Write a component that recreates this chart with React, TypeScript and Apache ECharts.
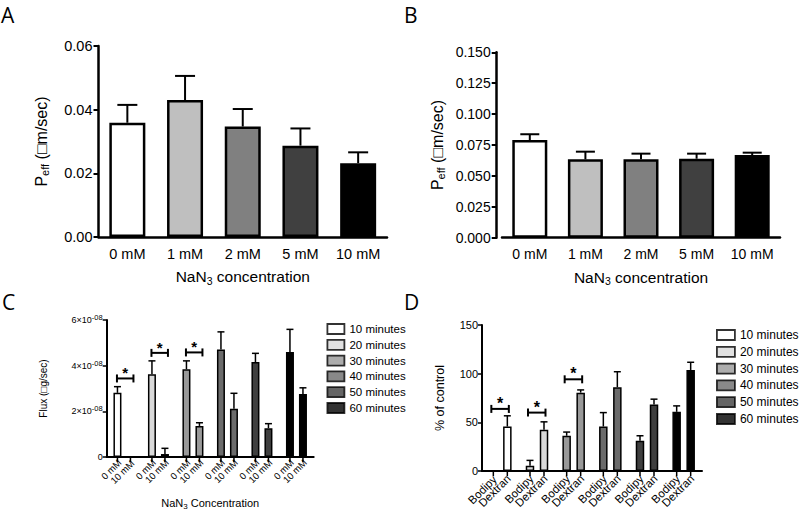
import React, { useEffect, useRef } from 'react';
import * as echarts from 'echarts';

// ---------- data ----------
const concCategories = ['0 mM', '1 mM', '2 mM', '5 mM', '10 mM'];
const peffA = [0.0359, 0.043, 0.0347, 0.0287, 0.0232];
const peffAErrTop = [0.0415, 0.0506, 0.0402, 0.0341, 0.0266];
const peffB = [0.079, 0.0634, 0.0634, 0.0639, 0.0669];
const peffBErrTop = [0.0837, 0.0696, 0.068, 0.068, 0.0688];

const timeCategories = ['10 minutes', '20 minutes', '30 minutes', '40 minutes', '50 minutes', '60 minutes'];
const flux0mM = [2.81e-8, 3.62e-8, 3.84e-8, 4.71e-8, 4.16e-8, 4.6e-8];
const flux0mMErrTop = [3.08e-8, 4.21e-8, 4.21e-8, 5.48e-8, 4.54e-8, 5.59e-8];
const flux10mM = [0, 0.13e-8, 1.36e-8, 2.11e-8, 1.26e-8, 2.76e-8];
const flux10mMErrTop = [0, 0.38e-8, 1.5e-8, 2.79e-8, 1.46e-8, 3.03e-8];
const sigC = [[0, 3.44e-8], [1, 4.56e-8], [2, 4.58e-8]];

const pctBodipy = [0, 5.4, 36.2, 45.7, 31, 60.8];
const pctBodipyErrTop = [0, 10.9, 40, 60, 36.2, 66.9];
const pctDextran = [45.7, 42.3, 80.5, 86.1, 68.2, 103.8];
const pctDextranErrTop = [56.7, 50.5, 83.3, 102, 73.8, 111.7];
const sigD = [[0, 63.8], [1, 60], [2, 94.2]];

const panelLetters = ['A', 'B', 'C', 'D'];

// ---------- styles ----------
const FONT = 'Liberation Sans, Arial, sans-serif';
const concColors = ['#ffffff', '#bfbfbf', '#808080', '#404040', '#000000'];
const timeColors = ['#ffffff', '#d9d9d9', '#999999', '#6b6b6b', '#3f3f3f', '#000000'];

function errRender(offset: number, cap: number, lw: number, tick: boolean) {
  return (params: any, api: any) => {
    const cat = api.value(0);
    const p0 = api.coord([cat, api.value(1)]);
    const p1 = api.coord([cat, api.value(2)]);
    const base = api.coord([cat, 0]);
    const x = p0[0] + offset;
    const st = { stroke: '#000', lineWidth: lw };
    const children: any[] = [
      { type: 'line', shape: { x1: x, y1: p0[1], x2: x, y2: p1[1] }, style: st },
      { type: 'line', shape: { x1: x - cap, y1: p1[1], x2: x + cap, y2: p1[1] }, style: st },
    ];
    if (tick) {
      children.push({ type: 'line', shape: { x1: x, y1: base[1], x2: x, y2: base[1] + 5 }, style: { stroke: '#000', lineWidth: 1.5 } });
    }
    return { type: 'group', children };
  };
}

function sigRender(left: number, right: number, fs: number) {
  return (params: any, api: any) => {
    const p = api.coord([api.value(0), api.value(1)]);
    const x1 = p[0] + left;
    const x2 = p[0] + right;
    const y = p[1];
    const st = { stroke: '#000', lineWidth: 2 };
    return {
      type: 'group',
      children: [
        { type: 'line', shape: { x1, y1: y, x2, y2: y }, style: st },
        { type: 'line', shape: { x1, y1: y - 4, x2: x1, y2: y + 4 }, style: st },
        { type: 'line', shape: { x1: x2, y1: y - 4, x2, y2: y + 4 }, style: st },
        {
          type: 'text',
          style: {
            text: '*', x: (x1 + x2) / 2, y: y - 5.5, align: 'center', verticalAlign: 'middle',
            fontSize: fs, fontWeight: 'bold', fill: '#000', fontFamily: FONT,
          },
        },
      ],
    };
  };
}

function axisLine(w: number) {
  return { show: true, lineStyle: { color: '#000', width: w } };
}

function buildOption(): any {
  const grids = [
    { left: 98.5, top: 46, width: 288.5, height: 191 },
    { left: 502, top: 52.3, width: 278, height: 185.4 },
    { left: 106.7, top: 320, width: 207, height: 137 },
    { left: 482, top: 325, width: 220, height: 146 },
  ];

  const concName = {
    name: '{a|NaN}{s|3}{a| concentration}', nameLocation: 'middle', nameGap: 30,
    nameTextStyle: {
      rich: {
        a: { fontSize: 15.5, color: '#000', fontFamily: FONT },
        s: { fontSize: 10.5, color: '#000', fontFamily: FONT, padding: [8, 0, 0, 0] },
      },
    },
  };

  const xAxes = [
    {
      type: 'category', gridIndex: 0, data: concCategories,
      axisLine: axisLine(2.5),
      axisTick: { alignWithLabel: true, length: 5, lineStyle: { color: '#000', width: 2 } },
      axisLabel: { interval: 0, fontSize: 14.5, color: '#000', margin: 9, fontFamily: FONT },
      ...concName,
    },
    {
      type: 'category', gridIndex: 1, data: concCategories,
      axisLine: axisLine(2.5),
      axisTick: { alignWithLabel: true, length: 5, lineStyle: { color: '#000', width: 2 } },
      axisLabel: { interval: 0, fontSize: 14, color: '#000', margin: 9, fontFamily: FONT },
      ...concName,
    },
    {
      type: 'category', gridIndex: 2, data: timeCategories,
      axisLine: axisLine(2),
      axisTick: { show: false },
      axisLabel: { show: false },
      name: '{a|NaN}{s|3}{a| Concentration}', nameLocation: 'middle', nameGap: 39,
      nameTextStyle: {
        rich: {
          a: { fontSize: 11, color: '#000', fontFamily: FONT },
          s: { fontSize: 8, color: '#000', fontFamily: FONT, padding: [6, 0, 0, 0] },
        },
      },
    },
    {
      type: 'category', gridIndex: 3, data: timeCategories,
      axisLine: axisLine(2),
      axisTick: { show: false },
      axisLabel: { show: false },
    },
  ];

  const peffName = {
    name: '{a|P}{s|eff}{a| (□m/sec)}', nameLocation: 'middle', nameRotate: 90,
    nameTextStyle: {
      rich: {
        a: { fontSize: 16, color: '#000', fontFamily: FONT },
        s: { fontSize: 11, color: '#000', fontFamily: FONT, padding: [8, 0, 0, 0] },
      },
    },
  };

  const yAxes = [
    {
      type: 'value', gridIndex: 0, min: 0, max: 0.06, interval: 0.02,
      axisLine: axisLine(2.5), splitLine: { show: false },
      axisTick: { show: true, length: 5, lineStyle: { color: '#000', width: 2 } },
      axisLabel: { fontSize: 14.5, color: '#000', margin: 6, fontFamily: FONT, formatter: (v: number) => v.toFixed(2) },
      ...peffName, nameGap: 48,
    },
    {
      type: 'value', gridIndex: 1, min: 0, max: 0.15, interval: 0.025, offset: 5.3,
      axisLine: axisLine(2.5), splitLine: { show: false },
      axisTick: { show: true, length: 5, lineStyle: { color: '#000', width: 2 } },
      axisLabel: { fontSize: 14, color: '#000', margin: 6, fontFamily: FONT, formatter: (v: number) => v.toFixed(3) },
      ...peffName, nameGap: 50,
    },
    {
      type: 'value', gridIndex: 2, min: 0, max: 6e-8, interval: 2e-8,
      axisLine: axisLine(2), splitLine: { show: false },
      axisTick: { show: true, length: 4, lineStyle: { color: '#000', width: 1.5 } },
      axisLabel: {
        color: '#000', margin: 4, fontFamily: FONT, fontSize: 9,
        formatter: (v: number) => (v === 0 ? '{b|0}' : `{b|${Math.round(v / 1e-8)}×10}{sup|-08}`),
        rich: {
          b: { fontSize: 9, color: '#000', fontFamily: FONT },
          sup: { fontSize: 7.5, color: '#000', fontFamily: FONT, padding: [0, 0, 5, 0] },
        },
      },
      name: 'Flux (□g/sec)', nameLocation: 'middle', nameRotate: 90, nameGap: 58,
      nameTextStyle: { fontSize: 10, color: '#000', fontFamily: FONT },
    },
    {
      type: 'value', gridIndex: 3, min: 0, max: 150, interval: 50,
      axisLine: axisLine(2), splitLine: { show: false },
      axisTick: { show: true, length: 4, lineStyle: { color: '#000', width: 1.5 } },
      axisLabel: { fontSize: 11, color: '#000', margin: 4, fontFamily: FONT },
      name: '% of control', nameLocation: 'middle', nameRotate: 90, nameGap: 36,
      nameTextStyle: { fontSize: 12.5, color: '#000', fontFamily: FONT },
    },
  ];

  const colored = (vals: number[], colors: string[]) =>
    vals.map((v, i) => ({ value: v, itemStyle: { color: colors[i] } }));
  const errData = (vals: number[], tops: number[]) => vals.map((v, i) => [i, v, tops[i]]);

  const smallLabel = (text: string, fs: number, dist: number, off: number[]) => ({
    show: true, position: 'bottom', distance: dist, rotate: 45, align: 'right', verticalAlign: 'middle',
    formatter: text, fontSize: fs, color: '#000', fontFamily: FONT, offset: off,
  });

  const series: any[] = [
    // A
    {
      type: 'bar', name: 'A', xAxisIndex: 0, yAxisIndex: 0, barWidth: 36,
      data: colored(peffA, concColors), itemStyle: { borderColor: '#000', borderWidth: 2.5 },
    },
    {
      type: 'custom', xAxisIndex: 0, yAxisIndex: 0, renderItem: errRender(0, 10, 2, false),
      data: errData(peffA, peffAErrTop), encode: { x: 0, y: [1, 2] }, z: 1,
    },
    // B
    {
      type: 'bar', name: 'B', xAxisIndex: 1, yAxisIndex: 1, barWidth: 35,
      data: colored(peffB, concColors), itemStyle: { borderColor: '#000', borderWidth: 2.5 },
    },
    {
      type: 'custom', xAxisIndex: 1, yAxisIndex: 1, renderItem: errRender(0, 9.5, 2, false),
      data: errData(peffB, peffBErrTop), encode: { x: 0, y: [1, 2] }, z: 1,
    },
    // C
    {
      type: 'bar', name: '0 mM', xAxisIndex: 2, yAxisIndex: 2, barWidth: 8, barGap: '62.5%',
      data: colored(flux0mM, timeColors), itemStyle: { borderColor: '#000', borderWidth: 1.5 },
      label: smallLabel('0 mM', 9.5, 6, [3, 0]),
    },
    {
      type: 'bar', name: '10 mM', xAxisIndex: 2, yAxisIndex: 2, barWidth: 8, barGap: '62.5%',
      data: colored(flux10mM, timeColors), itemStyle: { borderColor: '#000', borderWidth: 1.5 },
      label: smallLabel('10 mM', 9.5, 6, [3, 0]),
    },
    {
      type: 'custom', xAxisIndex: 2, yAxisIndex: 2, renderItem: errRender(-6.5, 3.5, 1.5, true),
      data: errData(flux0mM, flux0mMErrTop), encode: { x: 0, y: [1, 2] }, z: 1,
    },
    {
      type: 'custom', xAxisIndex: 2, yAxisIndex: 2, renderItem: errRender(6.5, 3.5, 1.5, true),
      data: errData(flux10mM, flux10mMErrTop), encode: { x: 0, y: [1, 2] }, z: 1,
    },
    {
      type: 'custom', xAxisIndex: 2, yAxisIndex: 2, renderItem: sigRender(-7, 9.5, 15),
      data: sigC, encode: { x: 0, y: 1 }, z: 3,
    },
    // D
    {
      type: 'bar', name: 'Bodipy', xAxisIndex: 3, yAxisIndex: 3, barWidth: 8.5, barGap: '65%',
      data: colored(pctBodipy, timeColors), itemStyle: { borderColor: '#000', borderWidth: 1.5 },
      label: smallLabel('Bodipy', 11.5, 7, [2, 0]),
    },
    {
      type: 'bar', name: 'Dextran', xAxisIndex: 3, yAxisIndex: 3, barWidth: 8.5, barGap: '65%',
      data: colored(pctDextran, timeColors), itemStyle: { borderColor: '#000', borderWidth: 1.5 },
      label: smallLabel('Dextran', 11.5, 7, [2, 0]),
    },
    {
      type: 'custom', xAxisIndex: 3, yAxisIndex: 3, renderItem: errRender(-7, 3.5, 1.5, true),
      data: errData(pctBodipy, pctBodipyErrTop), encode: { x: 0, y: [1, 2] }, z: 1,
    },
    {
      type: 'custom', xAxisIndex: 3, yAxisIndex: 3, renderItem: errRender(7, 3.5, 1.5, true),
      data: errData(pctDextran, pctDextranErrTop), encode: { x: 0, y: [1, 2] }, z: 1,
    },
    {
      type: 'custom', xAxisIndex: 3, yAxisIndex: 3, renderItem: sigRender(-9, 8.5, 16),
      data: sigD, encode: { x: 0, y: 1 }, z: 3,
    },
  ];

  // legend-only series (one per time point)
  timeCategories.forEach((name, i) => {
    series.push({
      type: 'scatter', name, xAxisIndex: 2, yAxisIndex: 2, data: [],
      itemStyle: { color: timeColors[i], borderColor: '#000', borderWidth: 1.5 },
    });
  });

  const legendBase = {
    orient: 'vertical', icon: 'rect', selectedMode: false, padding: 0,
    itemStyle: { borderColor: '#000', borderWidth: 1.8 },
    data: timeCategories,
  };

  const letterPos = [
    { left: 1, top: 4 },
    { left: 404, top: 4 },
    { left: 2, top: 291 },
    { left: 404, top: 291 },
  ];

  return {
    animation: false,
    backgroundColor: '#ffffff',
    textStyle: { fontFamily: FONT, color: '#000' },
    title: panelLetters.map((t, i) => ({
      text: t, left: letterPos[i].left, top: letterPos[i].top, padding: 0,
      textStyle: { fontSize: 21, fontWeight: 'normal', fontFamily: 'Open Sans', color: '#000' },
    })),
    legend: [
      {
        ...legendBase, left: 326.5, top: 323, itemWidth: 17, itemHeight: 10, itemGap: 3.8,
        textStyle: { fontSize: 11.5, color: '#000', fontFamily: FONT },
      },
      {
        ...legendBase, left: 716, top: 329, itemWidth: 18, itemHeight: 10, itemGap: 4.8,
        textStyle: { fontSize: 12, color: '#000', fontFamily: FONT },
      },
    ],
    grid: grids,
    xAxis: xAxes,
    yAxis: yAxes,
    series,
  };
}

export default function App() {
  const ref = useRef<HTMLDivElement>(null);
  useEffect(() => {
    if (!ref.current) return;
    const chart = echarts.init(ref.current, undefined, { renderer: 'svg' });
    chart.setOption(buildOption());
    return () => chart.dispose();
  }, []);
  return (
    <div
      ref={ref}
      style={{ position: 'absolute', left: 0, top: 0, width: 800, height: 513, background: '#fff' }}
    />
  );
}
